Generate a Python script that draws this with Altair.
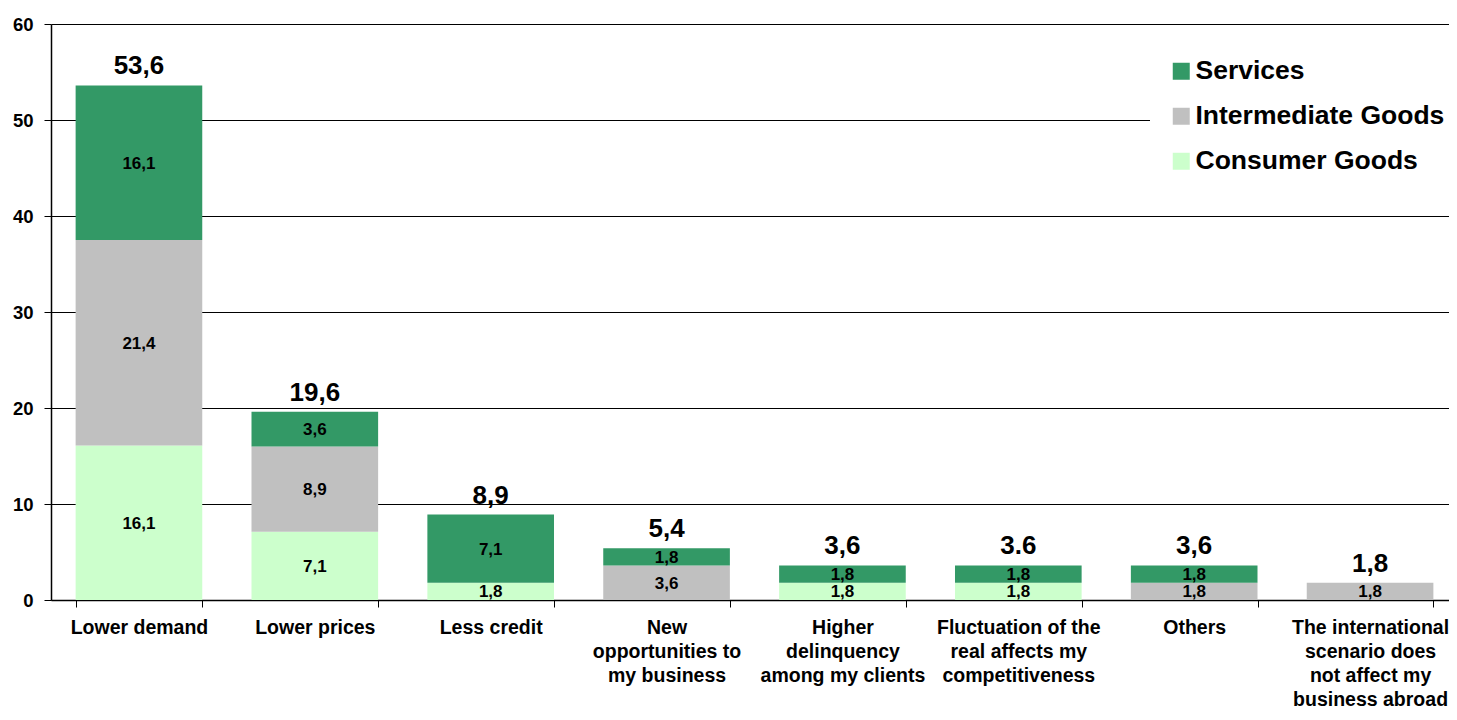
import altair as alt
import pandas as pd

categories = [
    "Lower demand",
    "Lower prices",
    "Less credit",
    "New|opportunities to|my business",
    "Higher|delinquency|among my clients",
    "Fluctuation of the|real affects my|competitiveness",
    "Others",
    "The international|scenario does|not affect my|business abroad",
]
consumer_goods = [16.1, 7.1, 1.8, 0, 1.8, 1.8, 0, 0]
intermediate_goods = [21.4, 8.9, 0, 3.6, 0, 0, 1.8, 1.8]
services = [16.1, 3.6, 7.1, 1.8, 1.8, 1.8, 1.8, 0]
totals = [53.6, 19.6, 8.9, 5.4, 3.6, 3.6, 3.6, 1.8]
total_labels = ["53,6", "19,6", "8,9", "5,4", "3,6", "3.6", "3,6", "1,8"]

series_names = ["Services", "Intermediate Goods", "Consumer Goods"]
series_colors = ["#339966", "#C0C0C0", "#CCFFCC"]

rows = []
for order, (name, vals) in enumerate(
    [("Consumer Goods", consumer_goods), ("Intermediate Goods", intermediate_goods), ("Services", services)]
):
    for cat, v in zip(categories, vals):
        if v > 0:
            rows.append({"category": cat, "series": name, "value": v, "ord": order,
                         "label": f"{v:.1f}".replace(".", ",")})
df = pd.DataFrame(rows)
df_tot = pd.DataFrame({"category": categories, "total": totals, "tlabel": total_labels})

FONT = "Liberation Sans"

x_scale = alt.Scale(paddingInner=0.28, paddingOuter=0.14, range=[0, 1407])

x_enc = alt.X(
    "category:N",
    sort=categories,
    title=None,
    scale=x_scale,
    axis=alt.Axis(
        labelExpr="split(datum.label, '|')",
        labelAngle=0,
        labelFontSize=19.5,
        labelFontWeight="bold",
        labelColor="black",
        labelLineHeight=24,
        labelPadding=11,
        labelLimit=0,
        labelOverlap=False,
        labelBaseline="top",
        tickBand="extent",
        tickColor="black",
        tickSize=7,
        domainColor="black",
        domainWidth=1.5,
        grid=False,
    ),
)

y_scale = alt.Scale(domain=[0, 60], nice=False)

bars = alt.Chart(df).mark_bar().encode(
    x=x_enc,
    y=alt.Y(
        "value:Q",
        stack="zero",
        scale=y_scale,
        title=None,
        axis=alt.Axis(
            values=[0, 10, 20, 30, 40, 50, 60],
            labelFontSize=18.5,
            labelFontWeight="bold",
            labelColor="black",
            labelPadding=11,
            tickColor="black",
            tickSize=7,
            domainColor="black",
            domainWidth=1.5,
            grid=True,
            gridColor="black",
            gridWidth=1.2,
        ),
    ),
    color=alt.Color(
        "series:N",
        scale=alt.Scale(domain=series_names, range=series_colors),
        legend=alt.Legend(
            title=None,
            orient="none",
            legendX=1099,
            legendY=16,
            padding=18,
            fillColor="white",
            symbolType="square",
            symbolSize=289,
            symbolStrokeWidth=0,
            symbolOpacity=1,
            labelFontSize=26.5,
            labelFontWeight="bold",
            labelColor="black",
            labelOffset=1,
            rowPadding=18,
            labelLimit=0,
        ),
    ),
    order=alt.Order("ord:Q", sort="ascending"),
)

seg_text = (
    alt.Chart(df)
    .transform_stack(
        stack="value",
        groupby=["category"],
        as_=["y0", "y1"],
        sort=[alt.SortField("ord", order="ascending")],
    )
    .transform_calculate(mid="(datum.y0 + datum.y1) / 2")
    .mark_text(fontSize=17, fontWeight="bold", color="black", baseline="middle", dy=1)
    .encode(x=alt.X("category:N", sort=categories, scale=x_scale),
            y=alt.Y("mid:Q", scale=y_scale), text="label:N")
)

tot_text = (
    alt.Chart(df_tot)
    .mark_text(fontSize=26, fontWeight="bold", color="black", baseline="alphabetic", dy=-11)
    .encode(x=alt.X("category:N", sort=categories, scale=x_scale),
            y=alt.Y("total:Q", scale=y_scale), text="tlabel:N")
)

chart = (
    alt.layer(bars, seg_text, tot_text)
    .properties(
        width=1398,
        height=576,
        autosize=alt.AutoSizeParams(type="none"),
        padding={"left": 43, "top": 16, "right": 0, "bottom": 108},
    )
    .configure(font=FONT)
    .configure_view(stroke=None)
)

chart.save("out.html", embed_options={"renderer": "svg", "actions": False})
